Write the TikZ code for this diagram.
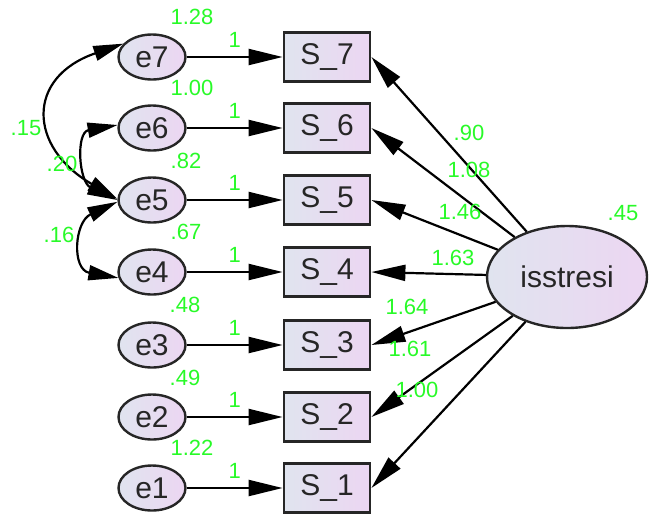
\documentclass[tikz,border=0pt]{standalone}
\usepackage{fontspec}
\setmainfont{Liberation Sans}
\usetikzlibrary{arrows.meta,shapes.geometric}

\definecolor{estcol}{RGB}{40,250,40}
\definecolor{fillA}{RGB}{224,228,239}
\definecolor{fillB}{RGB}{236,214,242}

\begin{document}
\begin{tikzpicture}[x=0.5pt,y=0.5pt,
  obs/.style={rectangle,draw=black!85,line width=1.4pt,minimum width=43pt,minimum height=24.5pt,inner sep=0pt,left color=fillA,right color=fillB,text=black!85,font=\fontsize{15}{17}\selectfont},
  err/.style={ellipse,draw=black!85,line width=1.2pt,minimum width=33.5pt,minimum height=22.5pt,inner sep=0pt,left color=fillA,right color=fillB,text=black!85,font=\fontsize{15}{17}\selectfont},
  lat/.style={ellipse,draw=black!85,line width=1.2pt,minimum width=80pt,minimum height=51pt,inner sep=0pt,left color=fillA,right color=fillB,text=black!85,font=\fontsize{15}{17}\selectfont},
  reg/.style={line width=1.1pt,-{Triangle[length=17pt,width=8pt]}},
  cov/.style={line width=1.1pt,{Triangle[length=15pt,width=7.5pt]}-{Triangle[length=15pt,width=7.5pt]}},
  num/.style={text=estcol,inner sep=0pt,font=\fontsize{11}{13}\selectfont}]
\useasboundingbox (0,0) rectangle (651,-515);

% items with their error terms
\foreach \i/\y in {7/57,6/128,5/200,4/272,3/345,2/417,1/488}{
  \node[err] (e\i) at (152,-\y) {e\i};
  \node[obs] (S\i) at (327,-\y) {S\_\i};
  \draw[reg] (e\i) -- (S\i) node[num,midway,above=4pt] (w\i) {1};
}

% latent factor
\node[lat] (iss) at (567,-277) {isstresi};
\node[num] (viss) at (623,-213) {.45};

% loadings
\draw[reg] (iss) -- (S7.east);
\draw[reg] (iss) -- (S6.east);
\draw[reg] (iss) -- (S5.east);
\draw[reg] (iss) -- (S4.east);
\draw[reg] (iss) -- (S3.east);
\draw[reg] (iss) -- (S2.east);
\draw[reg] (iss) -- (S1.east);
\node[num] (l7) at (469,-133) {.90};
\node[num] (l6) at (469,-170) {1.08};
\node[num] (l5) at (460,-212) {1.46};
\node[num] (l4) at (453,-258) {1.63};
\node[num] (l3) at (407,-307) {1.64};
\node[num] (l2) at (410,-349) {1.61};
\node[num] (l1) at (417,-390) {1.00};

% error variances
\node[num] (v7) at (192,-17) {1.28};
\node[num] (v6) at (192,-88) {1.00};
\node[num] (v5) at (186,-161) {.82};
\node[num] (v4) at (186,-232) {.67};
\node[num] (v3) at (185,-305) {.48};
\node[num] (v2) at (185,-378) {.49};
\node[num] (v1) at (192,-448) {1.22};

% error covariances
\draw[cov] (e7.155) to[out=199,in=150,looseness=1.7] (e5.178);
\draw[cov] (e6.175) to[out=190,in=155,looseness=1.45] (e5.180);
\draw[cov] (e4.190) to[out=170,in=205,looseness=1.6] (e5.183);
\node[num] (c75) at (26,-128) {.15};
\node[num] (c65) at (62,-164) {.20};
\node[num] (c54) at (59,-235) {.16};
\end{tikzpicture}
\end{document}
